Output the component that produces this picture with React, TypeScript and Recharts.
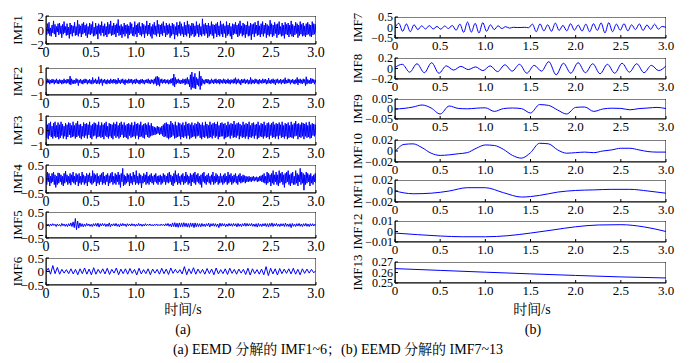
import React from 'react';
import { LineChart, Line, XAxis, YAxis, ReferenceArea } from 'recharts';

const FONT = '"Liberation Serif", "Times New Roman", Times, serif';
const CJK_FONT = '"Liberation Serif", "Noto Serif CJK SC", "Times New Roman", serif';
const X_TICKS = [0, 0.5, 1, 1.5, 2, 2.5, 3];

// IMF1..IMF6 (panel a)
const IMF1 = [
  0.4,-0.7,0.9,-0.5,1.1,-0.8,0.3,-0.9,0.7,-0.4,1.3,-0.6,0.8,-1.0,0.5,-0.3,0.9,-0.7,
  1.0,-0.5,0.6,-1.1,0.8,-0.6,1.2,-0.4,0.5,-0.8,0.9,-0.7,0.4,-1.2,1.0,-0.6,0.7,-0.9,
  0.6,-0.4,1.1,-0.8,0.5,-0.7,1.4,-0.9,0.8,-0.5,0.6,-1.0,0.9,-0.6,1.1,-0.4,0.7,-0.8,
  0.9,-1.1,0.5,-0.6,1.0,-0.7,0.8,-0.5,1.2,-0.9,0.4,-0.8,1.0,-0.6,0.6,-1.3,0.9,-0.5,
  0.7,-0.8,1.2,-0.4,0.6,-0.9,0.9,-0.7,0.5,-1.0,1.1,-0.6,0.8,-0.5,1.3,-0.8,0.6,-0.7,
  1.0,-0.6,0.7,-1.0,0.9,-0.4,1.5,-0.8,0.6,-0.7,0.8,-1.1,0.5,-0.6,1.0,-0.9,0.7,-0.5,
  0.8,-1.2,0.6,-0.7,1.1,-0.5,0.9,-0.8,0.4,-0.9,1.2,-0.6,0.7,-1.0,0.9,-0.4,1.1,-0.7,
  0.5,-0.9,1.0,-0.6,0.8,-1.1,0.6,-0.5,1.3,-0.8,0.7,-0.6,1.0,-0.9,0.5,-1.2,0.8,-0.6,
  1.1,-0.7,0.6,-0.9,1.4,-0.5,0.8,-1.0,0.7,-0.6,0.9,-0.8,1.2,-0.4,0.6,-1.0,1.0,-0.7,
  0.7,-0.5,0.9,-1.1,0.6,-0.8,1.0,-0.6,0.8,-1.3,0.5,-0.7,1.1,-0.9,0.7,-0.5,1.2,-0.8,
  0.9,-0.6,0.5,-1.0,1.1,-0.7,0.7,-0.9,1.3,-0.5,0.8,-1.1,0.6,-0.8,1.0,-0.6,0.9,-1.0,
  0.6,-0.8,1.2,-0.5,0.7,-1.0,0.9,-0.7,0.5,-0.9,1.6,-0.6,0.8,-0.8,1.0,-0.5,0.7,-1.1,
  1.0,-0.9,0.6,-0.6,1.2,-0.8,0.8,-1.2,0.7,-0.5,0.9,-1.0,1.1,-0.7,0.6,-0.9,1.3,-0.6,
  0.8,-1.0,0.9,-0.5,0.6,-1.1,1.2,-0.8,0.7,-0.6,1.0,-0.9,0.5,-1.3,0.9,-0.7,0.8,-0.5,
  1.1,-0.6,0.7,-1.0,0.9,-0.8,1.3,-0.5,0.6,-0.9,1.0,-0.7,0.8,-1.1,0.7,-0.6,1.2,-0.9,
  0.6,-0.8,1.0,-1.4,0.8,-0.6,0.9,-1.0,1.1,-0.5,0.7,-0.8,1.3,-0.7,0.6,-1.0,0.9,-0.6,
  1.2,-0.9,0.7,-0.5,1.0,-1.1,0.8,-0.7,0.6,-0.9,1.4,-0.6,0.9,-1.0,0.7,-0.8,1.1,-0.5,
  0.8,-1.1,0.9,-0.7,1.2,-0.6,0.5,-0.9,1.0,-0.8,0.7,-1.2,1.1,-0.6,0.8,-0.7,1.0,-1.0,
  0.7,-0.6,1.3,-0.9,0.8,-1.0,0.6,-0.7,1.1,-0.5,0.9,-1.1,0.7,-0.8,1.2,-0.6,0.8,-0.9,
  1.0,-0.8,0.6,-1.0,0.9,-0.7,1.1,-0.6,0.8,-0.9,0.7,-1.0,1.2,-0.7,0.9,-0.6,0.8,-0.4,
];
const IMF2 = [
  0.1,-0.15,0.2,-0.1,0.15,-0.2,0.1,-0.12,0.18,-0.1,0.14,-0.2,0.12,-0.1,0.2,-0.15,0.1,-0.18,
  0.15,-0.1,0.12,-0.2,0.1,-0.15,0.2,-0.12,0.1,-0.15,0.18,-0.1,0.15,-0.2,0.4,-0.25,0.2,-0.15,
  0.12,-0.18,0.1,-0.15,0.22,-0.1,0.15,-0.3,0.12,-0.1,0.18,-0.15,0.1,-0.2,0.14,-0.12,0.2,-0.1,
  0.15,-0.2,0.1,-0.12,0.18,-0.15,0.1,-0.2,0.3,-0.15,0.12,-0.1,0.2,-0.18,0.1,-0.15,0.35,-0.2,
  0.15,-0.1,0.2,-0.3,0.12,-0.1,0.18,-0.15,0.1,-0.2,0.15,-0.12,0.1,-0.18,0.2,-0.1,0.12,-0.15,
  0.18,-0.1,0.15,-0.2,0.1,-0.15,0.25,-0.12,0.1,-0.18,0.15,-0.1,0.2,-0.15,0.12,-0.25,0.15,-0.1,
  0.1,-0.15,0.2,-0.12,0.15,-0.1,0.18,-0.2,0.1,-0.12,0.15,-0.18,0.2,-0.1,0.12,-0.15,0.1,-0.2,
  0.15,-0.1,0.18,-0.15,0.1,-0.2,0.12,-0.1,0.15,-0.12,0.2,-0.15,0.1,-0.18,0.15,-0.1,0.12,-0.2,
  0.2,-0.15,0.35,-0.3,0.4,-0.25,0.3,-0.35,0.15,-0.1,0.2,-0.15,0.12,-0.1,0.18,-0.15,0.1,-0.12,
  0.15,-0.2,0.1,-0.15,0.2,-0.12,0.25,-0.3,0.55,-0.4,0.3,-0.2,0.15,-0.1,0.2,-0.15,0.12,-0.18,
  0.1,-0.15,0.2,-0.12,0.15,-0.25,0.2,-0.15,0.3,-0.2,0.15,-0.4,0.5,-0.6,0.7,-0.45,0.35,-0.5,
  0.6,-0.55,0.3,-0.25,0.2,-0.35,0.75,-0.6,0.4,-0.3,0.2,-0.15,0.12,-0.2,0.15,-0.1,0.18,-0.12,
  0.15,-0.2,0.1,-0.15,0.2,-0.1,0.12,-0.18,0.15,-0.1,0.2,-0.15,0.1,-0.12,0.18,-0.2,0.15,-0.1,
  0.12,-0.15,0.2,-0.1,0.15,-0.18,0.1,-0.12,0.2,-0.15,0.1,-0.2,0.15,-0.1,0.12,-0.15,0.2,-0.12,
  0.28,-0.2,0.15,-0.1,0.2,-0.15,0.1,-0.25,0.18,-0.12,0.15,-0.1,0.2,-0.18,0.12,-0.1,0.15,-0.2,
  0.1,-0.15,0.3,-0.2,0.15,-0.12,0.1,-0.18,0.2,-0.1,0.15,-0.15,0.12,-0.2,0.18,-0.1,0.1,-0.15,
  0.2,-0.12,0.15,-0.1,0.18,-0.2,0.1,-0.15,0.25,-0.12,0.1,-0.18,0.15,-0.1,0.2,-0.15,0.12,-0.25,
  0.15,-0.1,0.2,-0.15,0.1,-0.12,0.18,-0.2,0.12,-0.1,0.15,-0.18,0.28,-0.15,0.1,-0.12,0.2,-0.1,
  0.15,-0.2,0.12,-0.1,0.18,-0.15,0.1,-0.2,0.15,-0.12,0.3,-0.25,0.15,-0.1,0.2,-0.15,0.12,-0.18,
  0.2,-0.1,0.15,-0.3,0.35,-0.2,0.15,-0.12,0.1,-0.18,0.25,-0.15,0.2,-0.1,0.15,-0.2,0.12,-0.1,
];
const IMF3 = [
  0.7,-0.5,0.4,-0.6,0.5,-0.35,0.6,-0.45,0.3,-0.55,0.5,-0.4,0.6,-0.5,0.35,-0.45,0.55,-0.6,
  0.4,-0.5,0.6,-0.35,0.45,-0.55,0.3,-0.4,0.5,-0.6,0.4,-0.45,0.55,-0.3,0.5,-0.5,0.35,-0.45,
  0.6,-0.4,0.35,-0.55,0.5,-0.45,0.65,-0.35,0.4,-0.5,0.45,-0.6,0.3,-0.4,0.55,-0.5,0.45,-0.35,
  0.5,-0.55,0.4,-0.3,0.6,-0.5,0.35,-0.6,0.45,-0.4,0.55,-0.35,0.5,-0.55,0.4,-0.45,0.6,-0.4,
  0.35,-0.5,0.55,-0.45,0.4,-0.6,0.5,-0.35,0.6,-0.45,0.3,-0.55,0.5,-0.4,0.45,-0.5,0.4,-0.6,
  0.55,-0.35,0.45,-0.5,0.6,-0.4,0.35,-0.55,0.5,-0.45,0.6,-0.3,0.4,-0.5,0.55,-0.45,0.35,-0.5,
  0.45,-0.6,0.5,-0.35,0.4,-0.5,0.55,-0.45,0.35,-0.4,0.6,-0.55,0.45,-0.35,0.5,-0.6,0.4,-0.45,
  0.6,-0.4,0.35,-0.5,0.45,-0.55,0.5,-0.3,0.4,-0.45,0.55,-0.5,0.35,-0.4,0.5,-0.35,0.3,-0.3,
  0.25,-0.3,0.2,-0.25,0.3,-0.2,0.25,-0.3,0.2,-0.25,0.3,-0.35,0.4,-0.45,0.5,-0.4,0.55,-0.5,
  0.45,-0.6,0.4,-0.5,0.65,-0.45,0.5,-0.35,0.4,-0.55,0.6,-0.5,0.35,-0.45,0.55,-0.4,0.5,-0.6,
  0.4,-0.45,0.55,-0.5,0.35,-0.4,0.6,-0.55,0.45,-0.35,0.5,-0.6,0.4,-0.5,0.55,-0.45,0.35,-0.4,
  0.5,-0.55,0.45,-0.4,0.6,-0.35,0.5,-0.5,0.4,-0.6,0.55,-0.45,0.35,-0.5,0.6,-0.4,0.45,-0.55,
  0.35,-0.5,0.6,-0.45,0.4,-0.55,0.5,-0.35,0.55,-0.5,0.45,-0.4,0.6,-0.6,0.35,-0.45,0.5,-0.4,
  0.55,-0.4,0.45,-0.6,0.5,-0.5,0.35,-0.45,0.6,-0.4,0.4,-0.55,0.5,-0.35,0.45,-0.5,0.65,-0.45,
  0.4,-0.5,0.5,-0.35,0.55,-0.6,0.45,-0.4,0.35,-0.5,0.6,-0.45,0.4,-0.55,0.5,-0.4,0.45,-0.6,
  0.6,-0.45,0.35,-0.5,0.5,-0.4,0.55,-0.55,0.4,-0.35,0.45,-0.6,0.6,-0.5,0.35,-0.4,0.5,-0.45,
  0.45,-0.55,0.6,-0.4,0.35,-0.5,0.5,-0.45,0.55,-0.6,0.4,-0.35,0.5,-0.5,0.6,-0.45,0.4,-0.55,
  0.5,-0.4,0.45,-0.6,0.55,-0.35,0.4,-0.5,0.6,-0.45,0.35,-0.55,0.5,-0.4,0.45,-0.6,0.55,-0.5,
  0.35,-0.45,0.6,-0.5,0.4,-0.55,0.5,-0.4,0.65,-0.35,0.45,-0.6,0.5,-0.45,0.4,-0.5,0.55,-0.4,
  0.5,-0.6,0.45,-0.4,0.55,-0.5,0.35,-0.45,0.6,-0.55,0.4,-0.5,0.5,-0.35,0.45,-0.4,0.4,-0.3,
];
const IMF4 = [
  0.15,-0.2,0.25,-0.1,0.2,-0.25,0.1,-0.15,0.2,-0.1,0.25,-0.2,0.15,-0.3,0.1,-0.2,0.22,-0.15,
  0.2,-0.1,0.15,-0.2,0.1,-0.25,0.2,-0.15,0.28,-0.1,0.15,-0.2,0.1,-0.15,0.2,-0.22,0.15,-0.1,
  0.25,-0.15,0.1,-0.2,0.2,-0.1,0.15,-0.25,0.2,-0.15,0.1,-0.2,0.25,-0.12,0.15,-0.2,0.1,-0.15,
  0.2,-0.25,0.15,-0.1,0.22,-0.15,0.1,-0.2,0.3,-0.15,0.2,-0.1,0.15,-0.25,0.2,-0.15,0.1,-0.2,
  0.15,-0.1,0.2,-0.2,0.25,-0.15,0.1,-0.2,0.15,-0.1,0.2,-0.25,0.12,-0.15,0.2,-0.1,0.25,-0.2,
  0.1,-0.15,0.2,-0.2,0.15,-0.1,0.25,-0.2,0.15,-0.3,0.2,-0.1,0.38,-0.25,0.15,-0.2,0.1,-0.15,
  0.2,-0.1,0.15,-0.25,0.2,-0.15,0.1,-0.2,0.25,-0.1,0.15,-0.2,0.3,-0.15,0.1,-0.2,0.2,-0.15,
  0.15,-0.32,0.1,-0.15,0.2,-0.1,0.15,-0.2,0.25,-0.15,0.1,-0.2,0.15,-0.1,0.2,-0.15,0.1,-0.2,
  0.15,-0.1,0.2,-0.15,0.1,-0.2,0.12,-0.1,0.15,-0.2,0.1,-0.15,0.2,-0.1,0.15,-0.2,0.1,-0.12,
  0.2,-0.15,0.25,-0.1,0.15,-0.2,0.1,-0.25,0.2,-0.15,0.3,-0.1,0.15,-0.2,0.2,-0.15,0.1,-0.2,
  0.15,-0.1,0.2,-0.2,0.1,-0.15,0.25,-0.1,0.15,-0.2,0.1,-0.15,0.2,-0.25,0.15,-0.1,0.2,-0.15,
  0.25,-0.2,0.15,-0.1,0.2,-0.15,0.1,-0.2,0.15,-0.3,0.2,-0.1,0.25,-0.15,0.1,-0.2,0.15,-0.1,
  0.2,-0.15,0.1,-0.2,0.15,-0.1,0.25,-0.2,0.1,-0.15,0.2,-0.1,0.15,-0.2,0.1,-0.15,0.2,-0.12,
  0.1,-0.2,0.15,-0.15,0.2,-0.1,0.1,-0.2,0.25,-0.15,0.15,-0.1,0.2,-0.2,0.1,-0.15,0.15,-0.1,
  0.2,-0.15,0.1,-0.2,0.15,-0.1,0.2,-0.15,0.1,-0.12,0.15,-0.1,0.12,-0.15,0.1,-0.1,0.08,-0.1,
  0.1,-0.08,0.06,-0.1,0.08,-0.06,0.1,-0.08,0.06,-0.05,0.08,-0.1,0.06,-0.08,0.1,-0.06,0.12,-0.1,
  0.15,-0.12,0.2,-0.15,0.1,-0.2,0.25,-0.15,0.2,-0.1,0.15,-0.25,0.2,-0.15,0.3,-0.2,0.15,-0.1,
  0.25,-0.2,0.15,-0.25,0.3,-0.15,0.2,-0.1,0.25,-0.2,0.15,-0.3,0.2,-0.15,0.25,-0.1,0.3,-0.2,
  0.15,-0.25,0.2,-0.15,0.25,-0.2,0.1,-0.2,0.3,-0.15,0.2,-0.25,0.15,-0.1,0.38,-0.2,0.25,-0.15,
  0.2,-0.4,0.15,-0.2,0.25,-0.15,0.2,-0.1,0.15,-0.25,0.2,-0.15,0.1,-0.2,0.15,-0.1,0.2,-0.15,
];
const IMF5 = [
  0.03,-0.04,0.02,-0.05,0.04,-0.03,0.05,-0.02,0.03,-0.06,0.04,-0.03,0.02,-0.05,0.06,
  -0.03,0.04,-0.05,0.03,-0.06,0.05,-0.04,0.08,-0.06,0.12,-0.1,0.25,-0.18,0.15,-0.12,
  0.08,-0.06,0.05,-0.07,0.04,-0.05,0.06,-0.03,0.04,-0.05,0.03,-0.06,0.05,-0.04,0.06,
  -0.05,0.07,-0.08,0.05,-0.04,0.06,-0.03,0.05,-0.06,0.04,-0.05,0.08,-0.07,0.04,-0.03,
  0.05,-0.04,0.06,-0.05,0.03,-0.07,0.05,-0.04,0.06,-0.03,0.04,-0.06,0.05,-0.03,0.04,
  -0.04,0.05,-0.03,0.04,-0.05,0.03,-0.04,0.06,-0.03,0.04,-0.05,0.03,-0.04,0.05,-0.03,
  0.03,-0.02,0.04,-0.03,0.02,-0.04,0.03,-0.02,0.04,-0.03,0.02,-0.03,0.04,-0.02,0.03,
  -0.04,0.05,-0.03,0.06,-0.05,0.04,-0.07,0.08,-0.06,0.09,-0.08,0.07,-0.09,0.08,-0.07,
  0.08,-0.07,0.09,-0.06,0.07,-0.08,0.06,-0.09,0.08,-0.06,0.07,-0.1,0.08,-0.07,0.06,
  -0.06,0.05,-0.07,0.06,-0.05,0.04,-0.06,0.05,-0.04,0.07,-0.08,0.05,-0.04,0.06,-0.05,
  0.05,-0.06,0.04,-0.1,0.07,-0.05,0.06,-0.04,0.05,-0.07,0.04,-0.05,0.06,-0.04,0.05,
  -0.05,0.06,-0.04,0.05,-0.07,0.06,-0.05,0.04,-0.06,0.05,-0.04,0.07,-0.05,0.06,-0.04,
  0.05,-0.04,0.06,-0.05,0.04,-0.06,0.05,-0.08,0.06,-0.05,0.04,-0.06,0.05,-0.04,0.06,
  -0.06,0.05,-0.07,0.06,-0.05,0.08,-0.06,0.05,-0.04,0.06,-0.05,0.04,-0.06,0.05,-0.04,
  0.05,-0.06,0.07,-0.05,0.04,-0.06,0.05,-0.1,0.06,-0.05,0.04,-0.06,0.05,-0.04,0.06,
  -0.05,0.04,-0.06,0.05,-0.04,0.06,-0.05,0.04,-0.06,0.05,-0.04,0.05,-0.04,0.03,-0.02,
];
const IMF6 = [
  0,0.12,-0.1,0.22,-0.08,0.15,-0.1,0.08,-0.06,0.07,-0.08,0.1,
  -0.09,0.08,-0.12,0.1,-0.08,0.13,-0.1,0.09,-0.12,0.14,-0.1,0.08,
  -0.07,0.1,-0.09,0.12,-0.11,0.08,-0.06,0.13,-0.12,0.09,-0.08,0.1,
  -0.1,0.11,-0.07,0.08,-0.13,0.12,-0.09,0.07,-0.08,0.1,-0.12,0.09,
  -0.06,0.08,-0.1,0.12,-0.08,0.09,-0.11,0.13,-0.07,0.08,-0.06,0.07,
  -0.09,0.18,-0.12,0.1,-0.08,0.14,-0.1,0.09,-0.07,0.08,-0.1,0.11,
  -0.08,0.09,-0.12,0.13,-0.09,0.07,-0.08,0.1,-0.11,0.12,-0.07,0.08,
  -0.1,0.09,-0.06,0.08,-0.11,0.12,-0.13,0.1,-0.08,0.07,-0.1,0.09,
  -0.12,0.18,-0.15,0.12,-0.09,0.1,-0.13,0.11,-0.08,0.09,-0.07,0.1,
  -0.09,0.12,-0.1,0.08,-0.12,0.1,-0.07,0.09,-0.06,0.08,-0.05,0.04,
];

// IMF7..IMF13 (panel b)
const IMF7 = [
  0,0.2,-0.18,0.17,-0.2,0.13,-0.1,0.08,-0.07,0.09,-0.07,0.05,-0.08,0.07,-0.05,0.1,-0.13,0.16,
  -0.23,0.26,-0.22,0.2,-0.26,0.23,-0.18,0.13,-0.1,0.08,-0.05,0.04,-0.03,0.01,0,0,0.01,-0.01,
  0.16,-0.2,0.17,-0.16,0.13,-0.18,0.21,-0.14,0.1,-0.16,0.18,-0.13,0.12,-0.17,0.16,-0.2,0.18,-0.14,
  0.22,-0.26,0.23,-0.2,0.16,-0.13,0.18,-0.16,0.13,-0.1,0.17,-0.14,0.12,-0.09,0.16,-0.08,0.05,0,
];
const IMF8 = [
  0.02,0.08,-0.07,0.09,-0.08,0.11,-0.09,0.05,-0.03,0.04,-0.02,0.03,-0.04,0.05,-0.06,0.07,-0.05,0.08,-0.09,
  0.06,-0.05,0.13,-0.12,0.1,-0.09,0.11,-0.08,0.09,-0.1,0.08,-0.09,0.1,-0.07,0.09,-0.08,0.06,-0.04,0.05,
];
const IMF9 = [
  0,0.003,0.01,0.02,0.005,-0.025,0.015,0.003,0.001,0.004,0.006,-0.012,0.002,0.005,0.002,-0.02,
  0.022,0.018,-0.005,-0.025,0.008,0.01,-0.012,0,0.004,0.003,-0.004,0.002,0.005,0.008,0.002,
];
const IMF10 = [
  -0.001,0.012,0.013,0.006,-0.004,-0.008,-0.007,-0.005,-0.003,0.005,0.011,0.01,0.003,-0.008,-0.013,-0.003,
  0.014,0.013,0.002,-0.004,-0.003,-0.002,-0.003,0,0.002,0.005,0.005,0.002,-0.001,-0.002,-0.002,
];
const IMF11 = [0,-0.005,-0.004,0,0.006,0.006,-0.003,-0.011,-0.008,-0.002,0.001,0.002,0.003,0.003,0,-0.004];
const IMF12 = [-0.0015,-0.003,-0.0043,-0.005,-0.005,-0.004,-0.0015,0.0015,0.0045,0.0062,0.0065,0.0045,0];
const IMF13 = [0.2637,0.262,0.2603,0.2587,0.2572,0.2558,0.2548];

const fmtX = (v: number) => (v === 0 ? '0' : v.toFixed(1));
const fmtY = (v: number) => (v < 0 ? '\u2212' + String(Math.abs(v)) : String(v));

type Box = { x0: number; x1: number; y0: number; y1: number };

function Panel(props: {
  name: string;
  values: number[];
  domain: [number, number];
  yTicks: number[];
  box: Box;
  panelLeft: number;
  smooth?: boolean;
  fs: number;
  yfs: number;
}) {
  const { name, values, domain, yTicks, box, panelLeft, smooth, fs, yfs } = props;
  const data = values.map((v, i) => ({ t: (i * 3) / (values.length - 1), v }));
  const PADT = 8;
  const PADR = 26;
  const XH = 22;
  const width = box.x1 - panelLeft + PADR;
  const height = box.y1 - box.y0 + PADT + XH;
  return (
    <div style={{ position: 'absolute', left: panelLeft, top: box.y0 - PADT, fontFamily: FONT }}>
      <LineChart
        width={width}
        height={height}
        data={data}
        margin={{ top: PADT, right: PADR, left: 0, bottom: 0 }}
        style={{ fontFamily: FONT }}
      >
        <XAxis
          dataKey="t"
          type="number"
          domain={[0, 3]}
          ticks={X_TICKS}
          interval={0}
          tickFormatter={fmtX}
          tick={{ fill: '#000', fontSize: fs, fontFamily: FONT }}
          tickSize={-3}
          tickMargin={6}
          stroke="#000"
          height={XH}
          allowDataOverflow
        />
        <YAxis
          type="number"
          domain={domain}
          ticks={yTicks}
          interval={0}
          tickFormatter={fmtY}
          tick={{ fill: '#000', fontSize: yfs, fontFamily: FONT }}
          tickSize={-3}
          tickMargin={5}
          stroke="#000"
          width={box.x0 - panelLeft}
          allowDataOverflow
          label={{
            value: name,
            angle: -90,
            position: 'insideLeft',
            offset: 17,
            fill: '#000',
            fontSize: 13,
            fontFamily: FONT,
            style: { textAnchor: 'middle', fontFamily: FONT },
          }}
        />
        <ReferenceArea x1={0} x2={3} y1={domain[0]} y2={domain[1]} fill="none" stroke="#000" strokeWidth={1} ifOverflow="hidden" />
        <Line
          dataKey="v"
          type={smooth ? 'monotone' : 'linear'}
          stroke="#0000ff"
          strokeWidth={1}
          dot={false}
          isAnimationActive={false}
        />
      </LineChart>
    </div>
  );
}

const L = { x0: 46, x1: 316 };
const R = { x0: 395, x1: 666 };

export default function App() {
  const txt = (s: string, x: number, y: number, size: number) => (
    <div
      style={{
        position: 'absolute',
        left: x,
        top: y,
        transform: 'translate(-50%, -50%)',
        whiteSpace: 'nowrap',
        fontFamily: CJK_FONT,
        fontSize: size,
        color: '#000',
        lineHeight: 1,
      }}
    >
      {s}
    </div>
  );
  return (
    <div style={{ position: 'absolute', left: 0, top: 0, width: 700, height: 363, background: '#fff', overflow: 'hidden', fontFamily: FONT }}>
      <Panel name="IMF1" values={IMF1} domain={[-2, 2]} yTicks={[-2, 0, 2]} box={{ ...L, y0: 16, y1: 44 }} panelLeft={0} fs={14} yfs={13} />
      <Panel name="IMF2" values={IMF2} domain={[-1, 1]} yTicks={[-1, 0, 1]} box={{ ...L, y0: 68, y1: 95 }} panelLeft={0} fs={14} yfs={13} />
      <Panel name="IMF3" values={IMF3} domain={[-1, 1]} yTicks={[-1, 0, 1]} box={{ ...L, y0: 116, y1: 145 }} panelLeft={0} fs={14} yfs={13} />
      <Panel name="IMF4" values={IMF4} domain={[-0.5, 0.5]} yTicks={[-0.5, 0, 0.5]} box={{ ...L, y0: 165, y1: 193 }} panelLeft={0} fs={14} yfs={13} />
      <Panel name="IMF5" values={IMF5} domain={[-0.5, 0.5]} yTicks={[-0.5, 0, 0.5]} box={{ ...L, y0: 212, y1: 238 }} panelLeft={0} fs={14} yfs={13} />
      <Panel name="IMF6" values={IMF6} domain={[-0.5, 0.5]} yTicks={[-0.5, 0, 0.5]} box={{ ...L, y0: 258, y1: 285 }} panelLeft={0} fs={14} yfs={13} />

      <Panel name="IMF7" values={IMF7} domain={[-0.5, 0.5]} yTicks={[-0.5, 0, 0.5]} box={{ ...R, y0: 17, y1: 38 }} panelLeft={340} smooth fs={13} yfs={12} />
      <Panel name="IMF8" values={IMF8} domain={[-0.2, 0.2]} yTicks={[-0.2, 0, 0.2]} box={{ ...R, y0: 58, y1: 79 }} panelLeft={340} smooth fs={13} yfs={12} />
      <Panel name="IMF9" values={IMF9} domain={[-0.05, 0.05]} yTicks={[-0.05, 0, 0.05]} box={{ ...R, y0: 99, y1: 119 }} panelLeft={340} smooth fs={13} yfs={12} />
      <Panel name="IMF10" values={IMF10} domain={[-0.02, 0.02]} yTicks={[-0.02, 0, 0.02]} box={{ ...R, y0: 140, y1: 162 }} panelLeft={340} smooth fs={13} yfs={12} />
      <Panel name="IMF11" values={IMF11} domain={[-0.02, 0.02]} yTicks={[-0.02, 0, 0.02]} box={{ ...R, y0: 180, y1: 202 }} panelLeft={340} smooth fs={13} yfs={12} />
      <Panel name="IMF12" values={IMF12} domain={[-0.01, 0.01]} yTicks={[-0.01, 0, 0.01]} box={{ ...R, y0: 221, y1: 242 }} panelLeft={340} smooth fs={13} yfs={12} />
      <Panel name="IMF13" values={IMF13} domain={[0.25, 0.27]} yTicks={[0.25, 0.26, 0.27]} box={{ ...R, y0: 262, y1: 283 }} panelLeft={340} smooth fs={13} yfs={12} />

      {txt('时间/s', 183, 310, 14)}
      {txt('时间/s', 532, 310, 14)}
      {txt('(a)', 183, 330, 14)}
      {txt('(b)', 533, 330, 14)}
      {txt('(a) EEMD 分解的 IMF1~6；(b) EEMD 分解的 IMF7~13', 338, 350, 14)}
    </div>
  );
}
